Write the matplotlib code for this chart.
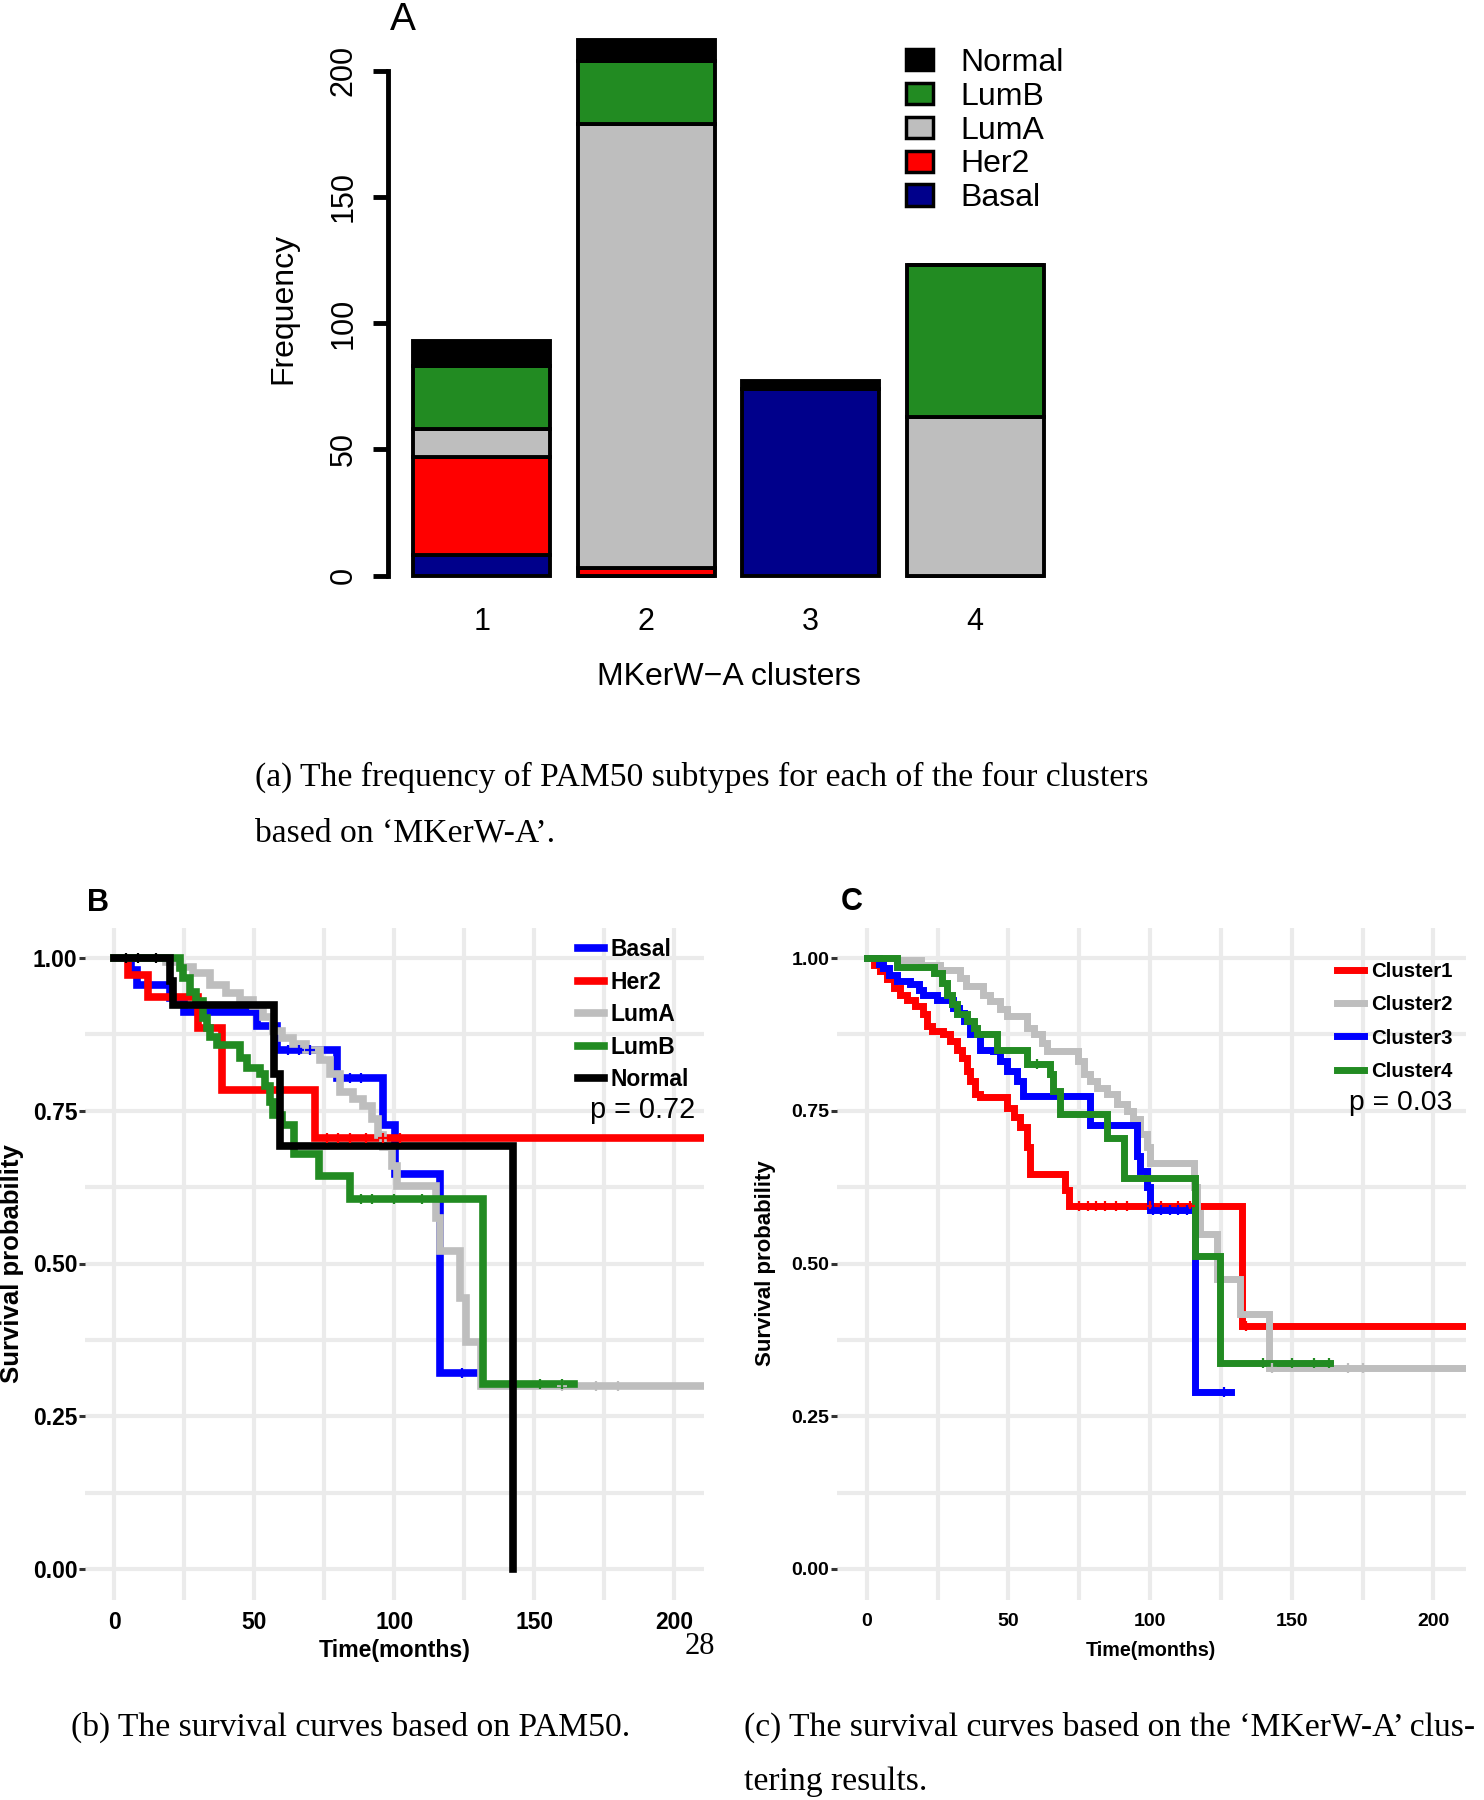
import numpy as np
import matplotlib
matplotlib.use("Agg")
import matplotlib.pyplot as plt
from matplotlib.patches import Patch
from matplotlib.lines import Line2D

W, H = 1484, 1800
SANS = "Liberation Sans"
SERIF = "Liberation Serif"

# ---- panel A: PAM50 subtypes in each MKerW-A cluster ----
clusters = ["1", "2", "3", "4"]
subtypes = ["Basal", "Her2", "LumA", "LumB", "Normal"]
basal = [8, 0, 74, 0]
her2 = [39, 3, 0, 0]
luma = [11, 176, 0, 63]
lumb = [25, 25, 0, 60]
normal = [10, 8, 3, 0]
bar_colors = ["#00008B", "#FF0000", "#BEBEBE", "#228B22", "#000000"]

# ---- panel B: survival by PAM50 subtype (step curves) ----
basal_t = [0, 6, 8, 20, 25, 50.8, 58, 79.4, 96, 100.3, 116.2, 129]
basal_s = [1.0, 0.98, 0.956, 0.935, 0.912, 0.888, 0.85, 0.803, 0.726, 0.646, 0.32, 0.32]
her2_t = [0, 5, 12, 30, 38.3, 71.6, 211]
her2_s = [1.0, 0.973, 0.937, 0.885, 0.784, 0.706, 0.706]
luma_t = [0, 18.6, 23.4, 28, 34, 40, 45, 49.6, 53, 56.7, 59.7, 63.9, 68.6, 73.4, 77,
          80.5, 85.3, 88.9, 91.9, 94, 96, 99, 101, 114.8, 116.2, 123.3, 125.7, 131, 211]
luma_s = [1.0, 0.993, 0.986, 0.975, 0.956, 0.943, 0.932, 0.921, 0.904, 0.88, 0.869, 0.86,
          0.85, 0.833, 0.81, 0.78, 0.77, 0.757, 0.737, 0.71, 0.69, 0.66, 0.627, 0.575,
          0.521, 0.444, 0.372, 0.30, 0.30]
lumb_t = [0, 23.4, 24.6, 27, 29.3, 31.7, 32.9, 34, 36.5, 44.8, 47.2, 52, 53.7, 55.5,
          56.7, 59.7, 64, 73, 84, 131.7, 164]
lumb_s = [1.0, 0.984, 0.967, 0.945, 0.929, 0.902, 0.885, 0.87, 0.858, 0.836, 0.82, 0.81,
          0.79, 0.765, 0.743, 0.726, 0.68, 0.644, 0.605, 0.303, 0.303]
norm_t = [0, 20, 21, 57, 59, 142.4]
norm_s = [1.0, 0.962, 0.923, 0.81, 0.692, 0.0]
cens_b = {
    "Basal": [62, 66, 70, 84, 88, 124],
    "Her2": [76, 80, 84, 90, 96, 102],
    "LumA": [160, 172, 180],
    "LumB": [88, 92, 100, 110, 152, 160],
    "Normal": [4, 8.5, 15],
}
p_b = "p = 0.72"

# ---- panel C: survival by MKerW-A cluster ----
c1_t = [0, 2.4, 4.8, 7.1, 9.5, 11.8, 14.2, 17.1, 20, 21.2, 23, 27, 29.5, 31.8, 33.6,
        35.3, 36.5, 38.3, 40, 49.4, 51.8, 54.1, 56.5, 57.5, 69.8, 71.5, 132.3, 211]
c1_s = [1.0, 0.989, 0.978, 0.965, 0.951, 0.94, 0.932, 0.921, 0.908, 0.889, 0.88, 0.875,
        0.864, 0.85, 0.837, 0.815, 0.799, 0.777, 0.772, 0.755, 0.739, 0.723, 0.69,
        0.647, 0.62, 0.594, 0.397, 0.397]
c2_t = [0, 10.6, 19, 26, 33, 35, 41.2, 43.6, 47, 49.4, 56.5, 58.9, 61.8, 63.6, 74.7,
        76.5, 78.9, 81.2, 84.7, 88.2, 91.8, 94.1, 96.5, 98.8, 100, 115.5, 116.5, 117.6,
        123.5, 131.7, 142, 211]
c2_s = [1.0, 0.997, 0.989, 0.981, 0.967, 0.954, 0.94, 0.929, 0.916, 0.905, 0.886, 0.875,
        0.861, 0.848, 0.832, 0.81, 0.799, 0.788, 0.777, 0.761, 0.75, 0.736, 0.712, 0.69,
        0.664, 0.625, 0.583, 0.549, 0.475, 0.418, 0.329, 0.329]
c3_t = [0, 4.2, 5.9, 8, 10.6, 15.3, 18.3, 20, 24.8, 30.6, 32.4, 34.2, 36.5, 40, 44.7,
        47.1, 49.4, 53, 55.3, 78.8, 95.3, 96.6, 99, 100, 115.9, 128.5]
c3_s = [1.0, 0.99, 0.984, 0.973, 0.962, 0.957, 0.948, 0.94, 0.932, 0.918, 0.91, 0.897,
        0.875, 0.85, 0.848, 0.832, 0.815, 0.799, 0.774, 0.726, 0.676, 0.651, 0.625,
        0.587, 0.29, 0.29]
c4_t = [0, 10.6, 23.6, 26.5, 28.3, 30, 31.8, 35.3, 37.7, 38.9, 45.9, 56.5, 64.7, 65.9,
        68.3, 84.7, 90.8, 115.9, 124.7, 163.6]
c4_s = [1.0, 0.986, 0.975, 0.959, 0.94, 0.924, 0.908, 0.897, 0.886, 0.875, 0.85, 0.826,
        0.81, 0.783, 0.745, 0.705, 0.64, 0.513, 0.337, 0.337]
cens_c = {
    "Cluster1": [75, 78, 81, 84, 88, 92, 100, 104, 110, 114, 134],
    "Cluster2": [143, 170, 175],
    "Cluster3": [101, 104, 107, 110, 113, 126],
    "Cluster4": [60, 140, 150, 158, 163],
}
p_c = "p = 0.03"


def px_rect(left, top, right, bottom):
    # pixel box (from top-left) -> figure fraction rect
    return [left / W, 1 - bottom / H, (right - left) / W, (bottom - top) / H]


def step_at(t, s, x):
    i = np.searchsorted(t, x, side="right") - 1
    return np.asarray(s)[i]


fig = plt.figure(figsize=(W / 100, H / 100), dpi=100)
fig.patch.set_facecolor("white")

# ================= panel A =================
axA = fig.add_axes(px_rect(388, 19, 1069, 597))
pos = 0.7 + 1.2 * np.arange(len(clusters))
bottom = np.zeros(len(clusters))
for vals, col in zip([basal, her2, luma, lumb, normal], bar_colors):
    axA.bar(pos, vals, width=1.0, bottom=bottom, color=col,
            edgecolor="black", linewidth=2.8)
    bottom += np.array(vals)
axA.set_xlim(0.016, 4.984)
axA.set_ylim(-8.48, 220.48)
for sp in ["top", "right", "bottom"]:
    axA.spines[sp].set_visible(False)
axA.spines["left"].set_bounds(0, 200)
axA.spines["left"].set_linewidth(3.5)
axA.set_yticks([0, 50, 100, 150, 200])
axA.tick_params(axis="y", length=11, width=3.5, pad=10, labelsize=22,
                labelrotation=90)
for lab in axA.get_yticklabels():
    lab.set_va("center")
    lab.set_family(SANS)
axA.set_xticks(pos)
axA.set_xticklabels(clusters, fontsize=22, family=SANS)
axA.tick_params(axis="x", length=0, pad=7.5)
axA.set_xlabel("MKerW\u2212A clusters", fontsize=23, family=SANS)
axA.xaxis.set_label_coords(0.5, (597 - 677) / 578)
axA.xaxis.label.set_va("center")
axA.set_ylabel("Frequency", fontsize=23, family=SANS)
axA.yaxis.set_label_coords((283 - 388) / 681, 0.5)
axA.yaxis.label.set_va("center")

handles = [Patch(facecolor=c, edgecolor="black", linewidth=2.5)
           for c in bar_colors][::-1]
axA.legend(handles, subtypes[::-1], loc="upper left",
           bbox_to_anchor=(906 / W, 1 - 48 / H), bbox_transform=fig.transFigure,
           frameon=False, prop={"family": SANS, "size": 23}, borderpad=0,
           borderaxespad=0, handlelength=0.85, handleheight=0.65,
           handletextpad=0.85, labelspacing=0.12)
fig.text(403 / W, 1 - 20 / H, "A", fontsize=28, family=SANS, ha="center", va="center")


# ================= survival panels =================
def km_panel(ax, curves, cens, xlim, tick_fs, lw):
    ax.set_xlim(*xlim)
    ax.set_ylim(-0.05, 1.05)
    for sp in ax.spines.values():
        sp.set_visible(False)
    grid_kw = dict(color="#EBEBEB", linewidth=3.0, zorder=0)
    for x in np.arange(0, 226, 25):
        ax.axvline(x, **grid_kw)
    for y in np.arange(0, 1.01, 0.125):
        ax.axhline(y, **grid_kw)
    for name, t, s, col in curves:
        ax.step(t, s, where="post", color=col, linewidth=lw, zorder=3,
                solid_joinstyle="miter")
        ct = np.array(cens.get(name, []))
        if len(ct):
            ax.plot(ct, step_at(t, s, ct), linestyle="none", marker="+",
                    markersize=7, markeredgewidth=1.6, color=col, zorder=4)
    ax.set_xticks([0, 50, 100, 150, 200])
    ax.set_yticks([0, 0.25, 0.5, 0.75, 1.0])
    ax.set_yticklabels(["0.00", "0.25", "0.50", "0.75", "1.00"])
    ax.tick_params(axis="y", length=4, width=2.2, color="#333333", pad=1.5)
    ax.tick_params(axis="x", length=0)
    for lab in ax.get_xticklabels() + ax.get_yticklabels():
        lab.set_family(SANS)
        lab.set_fontweight("bold")
        lab.set_fontsize(tick_fs)


# ---- B ----
axB = fig.add_axes(px_rect(85, 927.5, 704, 1599.5))
curves_b = [("Basal", basal_t, basal_s, "#0000FF"),
            ("Her2", her2_t, her2_s, "#FF0000"),
            ("LumA", luma_t, luma_s, "#BEBEBE"),
            ("LumB", lumb_t, lumb_s, "#228B22"),
            ("Normal", norm_t, norm_s, "#000000")]
km_panel(axB, curves_b, cens_b, (-10.5, 210.6), 16.5, 5.5)
axB.tick_params(axis="x", pad=8)
axB.set_xlabel("Time(months)", fontsize=16.7, family=SANS, fontweight="bold")
axB.xaxis.set_label_coords(0.5, (1599.5 - 1650) / 672)
axB.xaxis.label.set_va("center")
axB.set_ylabel("Survival probability", fontsize=18.5, family=SANS, fontweight="bold")
axB.yaxis.set_label_coords((12 - 85) / 619, 0.5)
axB.yaxis.label.set_va("center")
axB.text(207.5, 0.752, p_b, fontsize=20.8, family=SANS, ha="right", va="center")
hb = [Line2D([0], [0], color=c, linewidth=5.5) for _, _, _, c in curves_b]
axB.legend(hb, [n for n, _, _, _ in curves_b], loc="upper left",
           bbox_to_anchor=(578 / W, 1 - 938 / H), bbox_transform=fig.transFigure,
           frameon=False, prop={"family": SANS, "size": 16.5, "weight": "bold"},
           borderpad=0, borderaxespad=0, handlelength=1.15, handletextpad=0.28,
           labelspacing=0.42)
fig.text(98 / W, 1 - 903 / H, "B", fontsize=22, family=SANS, fontweight="bold",
         ha="center", va="center")

# ---- C ----
axC = fig.add_axes(px_rect(837, 927.5, 1465.5, 1599.5))
curves_c = [("Cluster1", c1_t, c1_s, "#FF0000"),
            ("Cluster2", c2_t, c2_s, "#BEBEBE"),
            ("Cluster3", c3_t, c3_s, "#0000FF"),
            ("Cluster4", c4_t, c4_s, "#228B22")]
km_panel(axC, curves_c, cens_c, (-10.5, 211.3), 14, 5.0)
axC.tick_params(axis="x", pad=10)
axC.set_xlabel("Time(months)", fontsize=14.2, family=SANS, fontweight="bold")
axC.xaxis.set_label_coords(0.5, (1599.5 - 1651) / 672)
axC.xaxis.label.set_va("center")
axC.set_ylabel("Survival probability", fontsize=16, family=SANS, fontweight="bold")
axC.yaxis.set_label_coords((766 - 837) / 628.5, 0.5)
axC.yaxis.label.set_va("center")
axC.text(206.5, 0.762, p_c, fontsize=20.4, family=SANS, ha="right", va="center")
hc = [Line2D([0], [0], color=c, linewidth=5.0) for _, _, _, c in curves_c]
axC.legend(hc, [n for n, _, _, _ in curves_c], loc="upper left",
           bbox_to_anchor=(1337 / W, 1 - 962 / H), bbox_transform=fig.transFigure,
           frameon=False, prop={"family": SANS, "size": 14.7, "weight": "bold"},
           borderpad=0, borderaxespad=0, handlelength=1.32, handletextpad=0.37,
           labelspacing=0.7)
fig.text(852 / W, 1 - 902 / H, "C", fontsize=22, family=SANS, fontweight="bold",
         ha="center", va="center")

# ---- captions (document text) ----
cap_kw = dict(family=SERIF, fontsize=24.2, ha="left", va="center")
fig.text(255 / W, 1 - 777 / H,
         "(a) The frequency of PAM50 subtypes for each of the four clusters", **cap_kw)
fig.text(255 / W, 1 - 833 / H, "based on \u2018MKerW-A\u2019.", **cap_kw)
fig.text(71 / W, 1 - 1727 / H, "(b) The survival curves based on PAM50.", **cap_kw)
fig.text(744 / W, 1 - 1727 / H,
         "(c) The survival curves based on the \u2018MKerW-A\u2019 clus-", **cap_kw)
fig.text(744 / W, 1 - 1782 / H, "tering results.", **cap_kw)
fig.text(700 / W, 1 - 1647 / H, "28", family=SERIF, fontsize=22, ha="center",
         va="center")

fig.savefig("out.png", dpi=100, facecolor="white")
